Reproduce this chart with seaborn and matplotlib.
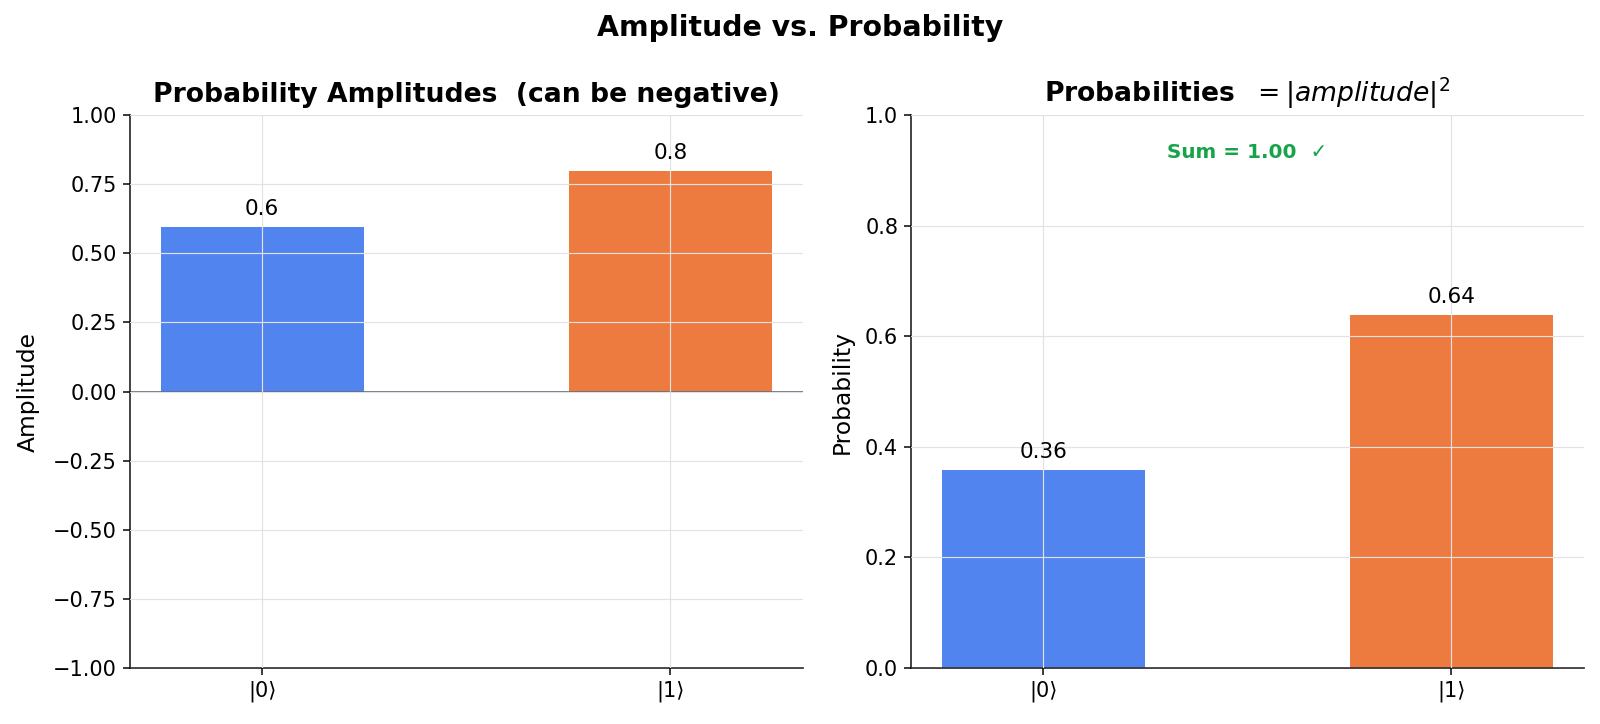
import matplotlib
matplotlib.use("Agg")
import matplotlib.pyplot as plt
import seaborn as sns
import pandas

states = ["|0⟩", "|1⟩"]
amplitudes = [0.6, 0.8]
probabilities = [0.36, 0.64]
bar_colors = ["#5284F0", "#ED7A3F"]

sns.set_style("white")
plt.rcParams["font.family"] = ["DejaVu Sans"]
plt.rcParams["text.color"] = "black"
plt.rcParams["axes.labelcolor"] = "black"
plt.rcParams["xtick.color"] = "black"
plt.rcParams["ytick.color"] = "black"

df = pandas.DataFrame({"state": states, "amp": amplitudes, "prob": probabilities})

fig, axes = plt.subplots(1, 2, figsize=(1600 / 120, 724 / 120), dpi=120)

# left: amplitudes
ax = axes[0]
sns.barplot(data=df, x="state", y="amp", hue="state", palette=bar_colors, saturation=1,
            width=0.5, legend=False, ax=ax, edgecolor="white", linewidth=0.6)
ax.axhline(0, color="#5a6478", linewidth=1.0)
ax.set_ylim(-1, 1)
ax.set_yticks([-1, -0.75, -0.5, -0.25, 0, 0.25, 0.5, 0.75, 1])
ax.set_ylabel("Amplitude", fontsize=14, labelpad=8)
ax.set_xlabel("")
ax.set_title("Probability Amplitudes  (can be negative)", fontsize=16,
             fontweight="bold", pad=8)
for i, v in enumerate(amplitudes):
    ax.text(i, v + 0.025, f"{v}", ha="center", va="bottom", fontsize=13)

# right: probabilities
ax = axes[1]
sns.barplot(data=df, x="state", y="prob", hue="state", palette=bar_colors, saturation=1,
            width=0.5, legend=False, ax=ax, edgecolor="white", linewidth=0.6)
ax.set_ylim(0, 1)
ax.set_ylabel("Probability", fontsize=14, labelpad=7)
ax.set_xlabel("")
ax.set_title(r"Probabilities  $= |amplitude|^2$", fontsize=16,
             fontweight="bold", pad=8)
for i, v in enumerate(probabilities):
    ax.text(i, v + 0.012, f"{v}", ha="center", va="bottom", fontsize=13)
ax.text(0.5, 0.932, f"Sum = {sum(probabilities):.2f}  ✓", transform=ax.transAxes,
        ha="center", va="center", color="#16a34a", fontsize=12, fontweight="bold")

for ax in axes:
    ax.grid(True, color="#e2e2e2", linewidth=0.7)
    ax.set_axisbelow(False)
    ax.tick_params(axis="both", labelsize=12.5, length=4, width=0.9, bottom=True, left=True)
    ax.set_xlim(-0.325, 1.325)
    sns.despine(ax=ax)
    for s in ["left", "bottom"]:
        ax.spines[s].set_linewidth(1.0)
        ax.spines[s].set_color("#222222")

fig.suptitle("Amplitude vs. Probability", fontsize=17, fontweight="bold", y=0.962, va="center")
fig.subplots_adjust(left=0.081, right=0.990, bottom=0.0775, top=0.841, wspace=0.16)
fig.savefig("out.png")
